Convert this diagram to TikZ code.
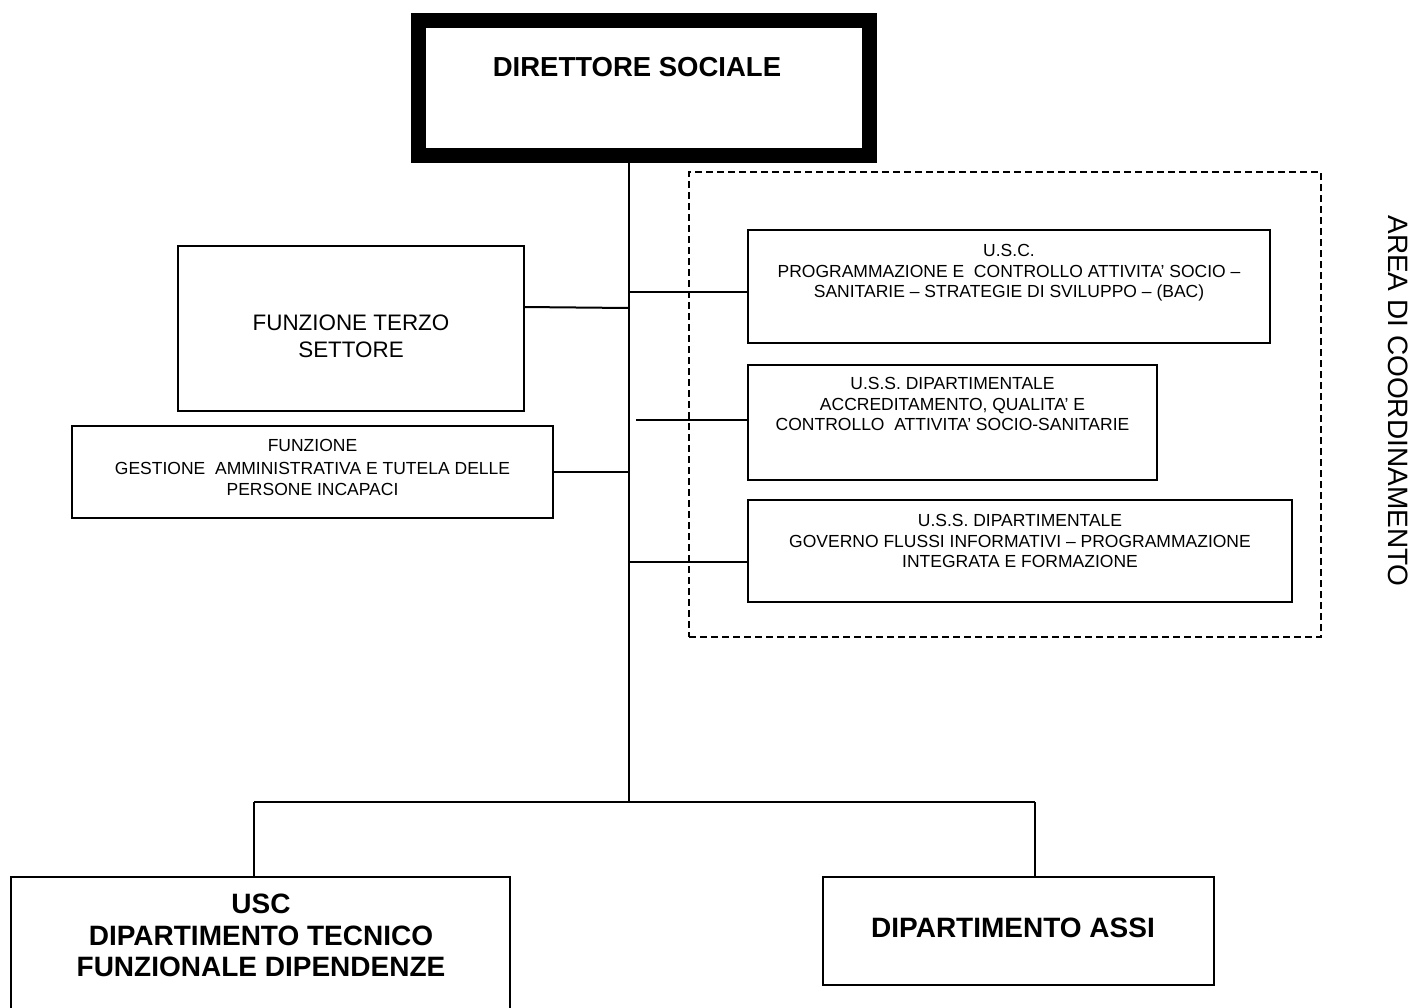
\documentclass[tikz,border=0pt]{standalone}
\usepackage{fontspec}
\setmainfont{Liberation Sans}
\begin{document}
\begin{tikzpicture}[x=1pt,y=-1pt,
  box/.style={draw, line width=1.5pt, inner sep=0pt, outer sep=0pt},
  headbox/.style={draw, line width=15pt, inner sep=0pt, outer sep=0pt},
  areabox/.style={draw, line width=1.6pt, dash pattern=on 7pt off 4pt, inner sep=0pt, outer sep=0pt},
  link/.style={line width=2pt},
  label/.style={inner sep=0pt, outer sep=0pt, align=center, anchor=north},
  small/.style={label, font=\fontsize{17.5}{20.5}\selectfont},
  mid/.style={label, font=\fontsize{22.4}{26.5}\selectfont},
  big/.style={label, font=\bfseries\fontsize{28}{31.5}\selectfont},
]
\useasboundingbox (0,0) rectangle (1418,1007);

% frames
\node[headbox, minimum width=451pt, minimum height=135pt] (dir) at (644,88) {};
\node[areabox, minimum width=632pt, minimum height=465pt] (area) at (1005,404.5) {};
\node[box, minimum width=522pt, minimum height=113pt] (usc) at (1009,286.5) {};
\node[box, minimum width=409pt, minimum height=115pt] (uss1) at (952.5,422.5) {};
\node[box, minimum width=544pt, minimum height=102pt] (uss2) at (1020,551) {};
\node[box, minimum width=346pt, minimum height=165pt] (terzo) at (351,328.5) {};
\node[box, minimum width=481pt, minimum height=92pt] (gest) at (312.5,472) {};
\node[box, minimum width=499pt, minimum height=140pt] (tec) at (260.5,947) {};
\node[box, minimum width=391pt, minimum height=108pt] (assi) at (1018.5,931) {};

% texts
\node[big, font=\bfseries\fontsize{27.5}{31.5}\selectfont] (tdir) at (637,57.5) {DIRETTORE SOCIALE};
\node[small] (tusc) at (1009,244.5) {U.S.C.\\PROGRAMMAZIONE E\ \ CONTROLLO ATTIVITA’ SOCIO –\\SANITARIE – STRATEGIE DI SVILUPPO – (BAC)};
\node[small] (tuss1) at (952.5,377.5) {U.S.S. DIPARTIMENTALE\\ACCREDITAMENTO, QUALITA’ E\\CONTROLLO\ \ ATTIVITA’ SOCIO-SANITARIE};
\node[small] (tuss2) at (1020,514.5) {U.S.S. DIPARTIMENTALE\\GOVERNO FLUSSI INFORMATIVI – PROGRAMMAZIONE\\INTEGRATA E FORMAZIONE};
\node[mid] (tterzo) at (351,315) {FUNZIONE TERZO\\SETTORE};
\node[small] (tgest) at (312.5,439.5) {FUNZIONE\\[2.5pt]GESTIONE\ \ AMMINISTRATIVA E TUTELA DELLE\\PERSONE INCAPACI};
\node[big] (ttec) at (261,894) {USC\\DIPARTIMENTO TECNICO\\FUNZIONALE DIPENDENZE};
\node[big] (tassi) at (1013,918) {DIPARTIMENTO ASSI};
\node[inner sep=0pt, rotate=-90, font=\fontsize{28}{32}\selectfont] (tarea) at (1398,401) {AREA DI COORDINAMENTO};

% trunk and branches
\coordinate (ttop) at ([xshift=-15pt,yshift=-7.5pt]dir.south);
\coordinate (tbot) at (629,802);
\draw[link] (ttop) -- (tbot);

\coordinate (j1) at (629,291.5);
\draw[link] (j1) -- (j1 -| usc.west);
\coordinate (j2) at (629,308);
\draw[link] ([yshift=21.5pt]terzo.east) -- (j2);
\coordinate (j3) at (636,420);
\draw[link] (j3) -- (j3 -| uss1.west);
\coordinate (j4) at (629,471.5);
\draw[link] (j4 -| gest.east) -- (j4);
\coordinate (j5) at (629,562);
\draw[link] (j5) -- (j5 -| uss2.west);

% lower branch
\coordinate (bl) at (254,802);
\coordinate (br) at (1035,802);
\draw[link] (bl) -- (br);
\draw[link] (bl) -- (bl |- tec.north);
\draw[link] (br) -- (br |- assi.north);
\end{tikzpicture}
\end{document}
